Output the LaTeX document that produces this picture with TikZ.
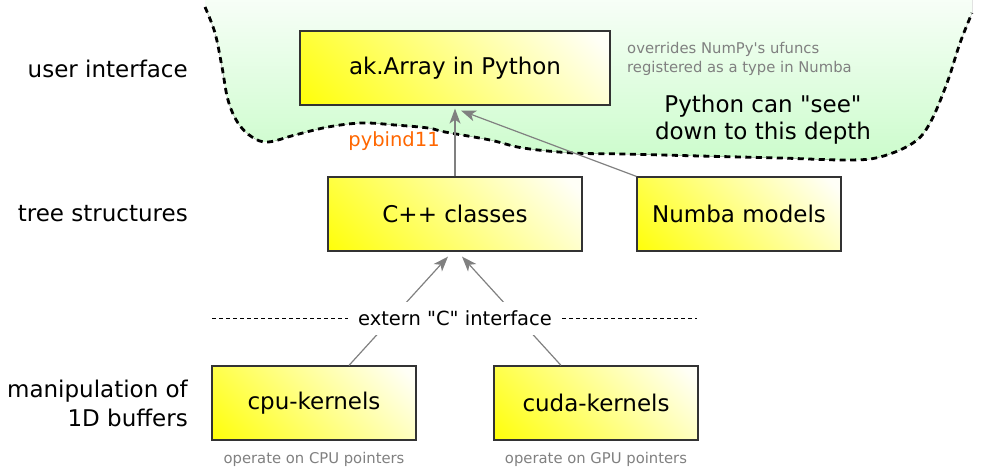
\documentclass[tikz,border=0pt]{standalone}
\usepackage{fontspec}
\setmainfont{DejaVu Sans}[Ligatures=TeXOff]
\usetikzlibrary{arrows.meta}
\definecolor{boxborder}{RGB}{51,51,51}
\definecolor{greenzone}{RGB}{204,252,204}
\definecolor{annot}{RGB}{128,128,128}
\definecolor{bindorange}{RGB}{255,102,0}
\pgfdeclareverticalshading{boxshade}{100bp}{color(0bp)=(yellow); color(12bp)=(yellow); color(82bp)=(yellow!3); color(100bp)=(yellow!3)}
\begin{document}
\begin{tikzpicture}[x=1pt,y=-1pt,
  box/.style={draw=boxborder, line width=1.2pt, minimum height=74pt, inner sep=0pt,
    shading=boxshade, shading angle=-45,
    font=\fontsize{23}{27}\selectfont},
  layer/.style={anchor=east, align=right, inner sep=0pt, font=\fontsize{23}{29}\selectfont},
  note/.style={text=annot, font=\fontsize{14.8}{19}\selectfont, inner sep=0pt},
  conn/.style={draw=annot, line width=1.2pt, -{Stealth[length=15pt,width=11pt,inset=4pt]}},
  zone/.style={draw=black, line width=2.8pt, dash pattern=on 6pt off 4.5pt},
  sep/.style={draw=black, line width=1pt, dash pattern=on 4pt off 3pt}
]
\useasboundingbox (0,0) rectangle (1000,473);

% green zone
\begin{scope}
\clip (0,0) rectangle (1000,473);
\fill[top color=white, middle color=greenzone!45!white, bottom color=greenzone]
  plot[smooth, tension=0.6] coordinates {(205,7) (215,33) (222,67) (228,100) (238,123) (252,137) (268,142) (295,135) (328,127) (362,123) (395,125) (428,128) (445,132) (490,140) (523,148) (573,153) (623,154) (700,156) (780,158) (847,160) (880,157) (913,143) (930,123) (947,83) (960,43) (972,13)} -- (972,-30) -- (205,-30) -- cycle;
\end{scope}
\draw[zone]
  plot[smooth, tension=0.6] coordinates {(205,7) (215,33) (222,67) (228,100) (238,123) (252,137) (268,142) (295,135) (328,127) (362,123) (395,125) (428,128) (445,132) (490,140) (523,148) (573,153) (623,154) (700,156) (780,158) (847,160) (880,157) (913,143) (930,123) (947,83) (960,43) (972,13)};

% layer labels
\node[layer] (lui) at (188,69) {user interface};
\node[layer] (lts) at (188,214) {tree structures};
\node[layer] (lmb) at (188,403) {manipulation of\\1D buffers};

% boxes
\node[box, minimum width=310pt] (ak) at (455,68) {ak.Array in Python};
\node[box, minimum width=254pt] (cpp) at (455,214) {C++ classes};
\node[box, minimum width=204pt] (numba) at (739,214) {Numba models};
\node[box, minimum width=204pt] (cpu) at (314,403) {cpu-kernels};
\node[box, minimum width=204pt] (cuda) at (596,403) {cuda-kernels};

% notes
\node[note, anchor=west, align=left] (ovr) at (627,59) {overrides NumPy's ufuncs\\registered as a type in Numba};
\node[align=center, font=\fontsize{23}{27}\selectfont] (see) at (763,120) {Python can "see"\\down to this depth};
\node[text=bindorange, font=\fontsize{19.5}{23}\selectfont, inner sep=0pt] (pyb) at (394,141) {pybind11};
\node[note] (cpun) at (314,459) {operate on CPU pointers};
\node[note] (gpun) at (596,459) {operate on GPU pointers};

% connectors
\draw[conn] (cpp.north) -- ([yshift=-3pt]ak.south);
\draw[conn] (numba.north west) -- ([xshift=6pt,yshift=-5pt]ak.south);

\coordinate (dl) at (212,318);
\coordinate (dr) at (697,318);
\draw[sep] (dl) -- (dr);
\draw[conn] ([xshift=35pt]cpu.north) -- ([xshift=-7pt,yshift=-5pt]cpp.south);
\draw[conn] ([xshift=-35pt]cuda.north) -- ([xshift=7pt,yshift=-5pt]cpp.south);
\node[fill=white, inner xsep=10pt, inner ysep=0pt, minimum height=33pt, font=\fontsize{19.5}{23}\selectfont] (ext) at (455,318) {extern "C" interface};
\end{tikzpicture}
\end{document}
